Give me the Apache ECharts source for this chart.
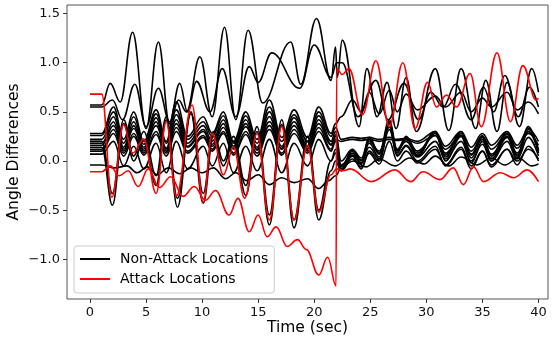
<!DOCTYPE html>
<html>
<head>
<meta charset="utf-8">
<script src="https://cdn.jsdelivr.net/npm/echarts@6/dist/echarts.min.js"></script>
<style>
  html, body { margin: 0; padding: 0; background: #fff; }
  #chart { width: 556px; height: 343px; }
</style>
</head>
<body>
<div id="chart"></div>
<script>
// tick labels
const xTicks = [0, 5, 10, 15, 20, 25, 30, 35, 40]
const yTicks = [-1.0, -0.5, 0.0, 0.5, 1.0, 1.5]

// shared time points (peaks / troughs) of the dense black bundle
const timePre = [0, 1.05, 2.1, 3.0, 3.9, 4.8, 5.9, 6.8, 7.7, 8.7, 10.1, 10.9, 11.9, 12.8, 13.9, 14.9, 16.0, 17.1, 18.2, 19.4, 20.4, 21.5, 21.9]
const timePost = [22.4, 23.4, 24.2, 24.9, 25.8, 26.7, 27.4, 28.2, 29.2, 30.8, 31.7, 33.1, 34.0, 35.0, 35.8, 37.2, 38.1, 39.1, 40.0]

// bundle lines: values before and after the event at t = 22
const b1Pre = [0.28, 0.28, 0.55, 0.22, 0.50, 0.20, 0.52, 0.20, 0.60, 0.25, 0.45, 0.28, 0.50, 0.20, 0.50, 0.22, 0.62, 0.24, 0.52, 0.24, 0.55, 0.28, 0.38]
const b1Post = [0.45, 0.62, 0.50, 0.70, 0.48, 0.72, 0.50, 0.68, 0.52, 0.66, 0.55, 0.70, 0.50, 0.64, 0.55, 0.70, 0.52, 0.60, 0.48]
const b2Pre = [0.26, 0.26, 0.50, 0.18, 0.45, 0.17, 0.48, 0.18, 0.52, 0.22, 0.40, 0.25, 0.46, 0.18, 0.46, 0.18, 0.55, 0.20, 0.47, 0.20, 0.50, 0.25, 0.34]
const b2Post = [0.22, 0.24, 0.23, 0.24, 0.22, 0.24, 0.22, 0.23, 0.20, 0.30, 0.15, 0.30, 0.14, 0.28, 0.16, 0.30, 0.16, 0.32, 0.20]
const b3Pre = [0.22, 0.22, 0.45, 0.14, 0.40, 0.14, 0.44, 0.13, 0.47, 0.18, 0.36, 0.20, 0.42, 0.15, 0.42, 0.14, 0.50, 0.15, 0.44, 0.15, 0.46, 0.20, 0.30]
const b3Post = [0.00, 0.12, 0.03, 0.22, 0.07, 0.38, 0.10, 0.22, 0.08, 0.30, 0.06, 0.30, 0.06, 0.26, 0.05, 0.30, 0.06, 0.33, 0.10]
const b4Pre = [0.18, 0.18, 0.40, 0.10, 0.36, 0.10, 0.40, 0.10, 0.42, 0.15, 0.32, 0.17, 0.38, 0.12, 0.38, 0.11, 0.45, 0.12, 0.40, 0.12, 0.42, 0.17, 0.27]
const b4Post = [-0.06, 0.10, 0.00, 0.24, 0.08, 0.42, 0.11, 0.20, 0.06, 0.28, 0.04, 0.28, 0.03, 0.24, 0.02, 0.28, 0.05, 0.35, 0.08]
const b5Pre = [0.16, 0.16, 0.36, 0.12, 0.33, 0.12, 0.36, 0.12, 0.38, 0.14, 0.30, 0.15, 0.34, 0.13, 0.35, 0.12, 0.40, 0.13, 0.36, 0.13, 0.38, 0.16, 0.25]
const b5Post = [-0.09, 0.11, 0.01, 0.20, 0.10, 0.35, 0.12, 0.24, 0.10, 0.26, 0.08, 0.26, 0.07, 0.22, 0.07, 0.25, 0.08, 0.30, 0.12]
const b6Pre = [0.12, 0.12, 0.32, 0.08, 0.28, 0.08, 0.30, 0.08, 0.34, 0.10, 0.26, 0.12, 0.30, 0.08, 0.30, 0.08, 0.36, 0.08, 0.32, 0.10, 0.34, 0.12, 0.22]
const b6Post = [0.20, 0.22, 0.21, 0.22, 0.20, 0.22, 0.21, 0.22, 0.18, 0.26, 0.12, 0.26, 0.10, 0.25, 0.12, 0.27, 0.13, 0.28, 0.16]
const b7Pre = [0.10, 0.10, 0.28, 0.05, 0.25, 0.06, 0.27, 0.05, 0.30, 0.08, 0.24, 0.10, 0.28, 0.06, 0.27, 0.05, 0.32, 0.06, 0.28, 0.08, 0.30, 0.10, 0.20]
const b7Post = [-0.04, 0.06, -0.02, 0.14, 0.02, 0.32, 0.06, 0.16, 0.04, 0.20, 0.02, 0.20, 0.00, 0.17, 0.00, 0.20, 0.02, 0.24, 0.05]
const d2Pre = [0.07, 0.07, 0.20, -0.05, 0.15, -0.08, 0.18, -0.12, 0.20, -0.08, 0.15, -0.05, 0.18, -0.12, 0.15, -0.10, 0.22, -0.12, 0.18, -0.05, 0.22, 0.00, 0.12]
const d2Post = [-0.10, 0.02, -0.06, 0.08, -0.03, 0.20, 0.00, 0.10, -0.02, 0.12, -0.04, 0.14, -0.05, 0.10, -0.06, 0.12, -0.04, 0.15, 0.00]

// lines with their own [time, value] points
const highA = [[0, 0.57], [1.05, 0.57], [1.8, 0.79], [2.7, 0.6], [3.8, 1.31], [5.0, 0.33], [6.1, 1.21], [7.1, 0.38], [7.9, 0.62], [8.6, 0.5], [9.8, 1.06], [10.9, 0.45], [12.0, 1.36], [13.0, 0.42], [14.1, 1.33], [15.4, 0.59], [17.9, 1.21], [18.8, 0.78], [20.2, 1.45], [21.5, 0.82], [21.9, 1.16], [22.05, 0.85], [22.5, 1.23], [24.0, 0.35], [24.7, 0.94], [25.6, 0.45], [26.5, 0.8], [27.3, 0.33], [28.2, 0.85], [29.1, 0.3], [30.8, 0.94], [32.0, 0.31], [33.1, 0.94], [34.4, 0.33], [35.3, 0.82], [36.3, 0.3], [37.2, 0.8], [38.3, 0.35], [39.4, 0.94], [40, 0.7]]
const highB = [[0, 0.55], [1.05, 0.55], [2.0, 0.62], [2.9, 0.42], [4.0, 0.78], [5.0, 0.35], [6.1, 0.74], [7.1, 0.4], [8.0, 0.79], [8.7, 0.5], [9.5, 0.81], [10.7, 0.5], [11.8, 0.94], [13.0, 0.45], [14.2, 0.96], [15.0, 0.8], [16.2, 1.10], [18.7, 0.74], [20.0, 1.18], [21.5, 0.85], [22.0, 1.0], [22.5, 1.0], [23.9, 0.45], [25.5, 0.82], [26.6, 0.42], [28.0, 0.79], [29.3, 0.42], [30.4, 0.7], [31.5, 0.55], [32.6, 0.78], [34.0, 0.42], [35.1, 0.75], [36.0, 0.5], [37.0, 0.87], [38.2, 0.45], [39.2, 0.75], [40, 0.55]]
const deepA = [[0, 0.14], [1.05, 0.14], [2.0, -0.45], [3.0, 0.38], [3.9, 0.0], [4.8, 0.22], [5.9, -0.25], [6.8, 0.42], [7.8, -0.47], [9.0, 0.48], [10.1, -0.43], [11.0, 0.25], [11.9, -0.05], [12.8, 0.2], [13.9, -0.35], [14.9, 0.3], [16.0, -0.65], [17.1, 0.37], [18.2, -0.68], [19.4, 0.2], [20.4, -0.6], [21.5, -0.1], [21.9, 0.0], [22.4, -0.1], [23.4, 0.05], [24.2, -0.08], [24.9, 0.1], [25.8, 0.0], [26.7, 0.35], [27.4, 0.05], [28.2, 0.15], [29.2, 0.0], [30.8, 0.15], [31.7, -0.05], [33.1, 0.12], [34.0, -0.08], [35.0, 0.1], [35.8, -0.04], [37.2, 0.12], [38.1, 0.0], [39.1, 0.12], [40, 0.02]]
const deepB = [[0, 0.2], [1.05, 0.2], [2.0, -0.33], [3.0, 0.42], [3.9, 0.05], [4.8, 0.3], [5.9, -0.15], [6.8, 0.45], [7.8, -0.38], [9.0, 0.5], [10.1, -0.33], [11.0, 0.3], [11.9, 0.0], [12.8, 0.25], [13.9, -0.25], [14.9, 0.35], [16.0, -0.55], [17.1, 0.42], [18.2, -0.6], [19.4, 0.25], [20.4, -0.5], [21.5, 0.0], [21.9, 0.08], [22.4, -0.08], [23.4, 0.08], [24.2, -0.03], [24.9, 0.18], [25.8, 0.04], [26.7, 0.4], [27.4, 0.08], [28.2, 0.25], [29.2, 0.05], [30.8, 0.3], [31.7, 0.0], [33.1, 0.25], [34.0, -0.02], [35.0, 0.2], [35.8, 0.0], [37.2, 0.24], [38.1, 0.03], [39.1, 0.3], [40, 0.1]]
const lowA = [[0, -0.04], [1.05, -0.04], [2.2, -0.07], [3.3, -0.05], [4.2, -0.12], [5.1, -0.06], [6.0, -0.14], [7.0, -0.07], [8.0, -0.13], [9.0, -0.07], [10.0, -0.12], [11.0, -0.07], [12.1, -0.18], [13.0, -0.12], [14.0, -0.2], [15.0, -0.14], [16.0, -0.24], [17.1, -0.17], [18.2, -0.22], [19.4, -0.18], [20.4, -0.28], [21.3, -0.2], [21.9, -0.15], [22.5, -0.05], [23.5, 0.0], [24.6, -0.06], [25.8, 0.02], [27.2, -0.05], [28.5, 0.03], [29.8, -0.03], [30.8, 0.05], [32.0, -0.05], [33.1, 0.04], [34.5, -0.04], [35.8, 0.03], [37.0, -0.04], [38.2, 0.03], [39.4, -0.05], [40, -0.03]]

// attack locations
const attackSwing = [[0, 0.68], [1.05, 0.68], [1.95, -0.37], [3.0, 0.37], [3.8, 0.08], [4.8, 0.22], [5.9, -0.33], [6.8, 0.40], [7.7, -0.36], [9.1, 0.57], [10.1, -0.42], [10.9, 0.28], [11.9, -0.14], [12.8, 0.14], [13.8, -0.38], [14.9, 0.28], [16.0, -0.6], [17.1, 0.35], [18.2, -0.6], [19.4, 0.16], [20.4, -0.52], [21.5, -0.14], [22.0, -0.08], [22.6, -0.1], [23.2, -0.08], [25.1, -0.21], [27.2, -0.09], [28.6, -0.21], [29.7, -0.11], [31.2, -0.19], [32.4, -0.07], [33.3, -0.24], [34.2, -0.06], [35.1, -0.21], [36.6, -0.12], [37.8, -0.17], [39.0, -0.09], [40, -0.21]]
const attackDrift = [[0, -0.11], [1.05, -0.11], [1.8, -0.05], [2.6, -0.15], [3.4, -0.1], [4.3, -0.26], [5.2, -0.08], [6.2, -0.27], [7.2, -0.16], [8.3, -0.36], [9.3, -0.26], [10.3, -0.4], [11.2, -0.3], [12.4, -0.55], [13.2, -0.38], [14.2, -0.72], [15.0, -0.55], [15.8, -0.77], [16.6, -0.67], [17.6, -0.87], [18.5, -0.8], [19.3, -0.9], [20.4, -1.16], [21.2, -0.98], [21.95, -1.27], [22.0, 0.94], [22.5, 0.88], [23.1, 0.94], [24.3, 0.47], [25.5, 1.02], [26.7, 0.35], [27.9, 1.0], [29.0, 0.33], [30.1, 0.8], [30.9, 0.55], [31.8, 0.67], [32.7, 0.55], [33.9, 0.89], [34.9, 0.35], [36.3, 1.1], [37.5, 0.4], [38.6, 0.97], [39.8, 0.62], [40, 0.64]]

const NON = 'Non-Attack Locations'
const ATT = 'Attack Locations'
const FONT = 'DejaVu Sans'

const zipLine = (pre, post) =>
  timePre.map((t, i) => [t, pre[i]]).concat(timePost.map((t, i) => [t, post[i]]))

const blackLines = [
  highA, highB,
  zipLine(b1Pre, b1Post), zipLine(b2Pre, b2Post), zipLine(b3Pre, b3Post),
  zipLine(b4Pre, b4Post), zipLine(b5Pre, b5Post), zipLine(b6Pre, b6Post),
  zipLine(b7Pre, b7Post), zipLine(d2Pre, d2Post),
  deepA, deepB, lowA
]
const redLines = [attackSwing, attackDrift]

const mkSeries = (name, color) => (data) => ({
  type: 'line',
  name,
  data,
  smooth: 0.4,
  smoothMonotone: 'x',
  symbol: 'none',
  showSymbol: false,
  lineStyle: { color, width: 1.6 },
  itemStyle: { color },
  emphasis: { disabled: true }
})

const chart = echarts.init(document.getElementById('chart'))

chart.setOption({
  animation: false,
  grid: {
    left: 67, right: 8, top: 5, bottom: 44,
    outerBoundsMode: 'none',
    show: true, borderColor: '#555', borderWidth: 1, backgroundColor: 'transparent'
  },
  legend: {
    data: [NON, ATT],
    orient: 'vertical',
    left: 74,
    top: 246,
    padding: [5, 6, 6, 6],
    itemGap: 4,
    itemWidth: 30,
    itemHeight: 2,
    icon: 'rect',
    backgroundColor: 'rgba(255,255,255,0.8)',
    borderColor: '#cccccc',
    borderWidth: 1,
    borderRadius: 3,
    textStyle: { fontFamily: FONT, fontSize: 14, color: '#000', lineHeight: 16, padding: [0, 0, 0, 5] }
  },
  xAxis: {
    type: 'value',
    min: -2.05,
    max: 40.85,
    name: 'Time (sec)',
    nameLocation: 'middle',
    nameGap: 21,
    nameMoveOverlap: false,
    nameTextStyle: { fontFamily: FONT, fontSize: 15.5, color: '#000' },
    axisLine: { show: false, onZero: false },
    splitLine: { show: false },
    axisTick: { show: true, length: 4, lineStyle: { color: '#333' }, customValues: xTicks },
    axisLabel: { customValues: xTicks, fontFamily: FONT, fontSize: 13, color: '#111', margin: 7 }
  },
  yAxis: {
    type: 'value',
    min: -1.404,
    max: 1.587,
    name: 'Angle Differences',
    nameLocation: 'middle',
    nameGap: 45,
    nameMoveOverlap: false,
    nameTextStyle: { fontFamily: FONT, fontSize: 15.5, color: '#000' },
    axisLine: { show: false, onZero: false },
    splitLine: { show: false },
    axisTick: { show: true, length: 4, lineStyle: { color: '#333' }, customValues: yTicks },
    axisLabel: {
      customValues: yTicks, fontFamily: FONT, fontSize: 13, color: '#111', margin: 7,
      formatter: (v) => (v < 0 ? '\u2212' : '') + Math.abs(v).toFixed(1)
    }
  },
  series: blackLines.map(mkSeries(NON, '#000000')).concat(redLines.map(mkSeries(ATT, '#ff0000')))
})
</script>
</body>
</html>
